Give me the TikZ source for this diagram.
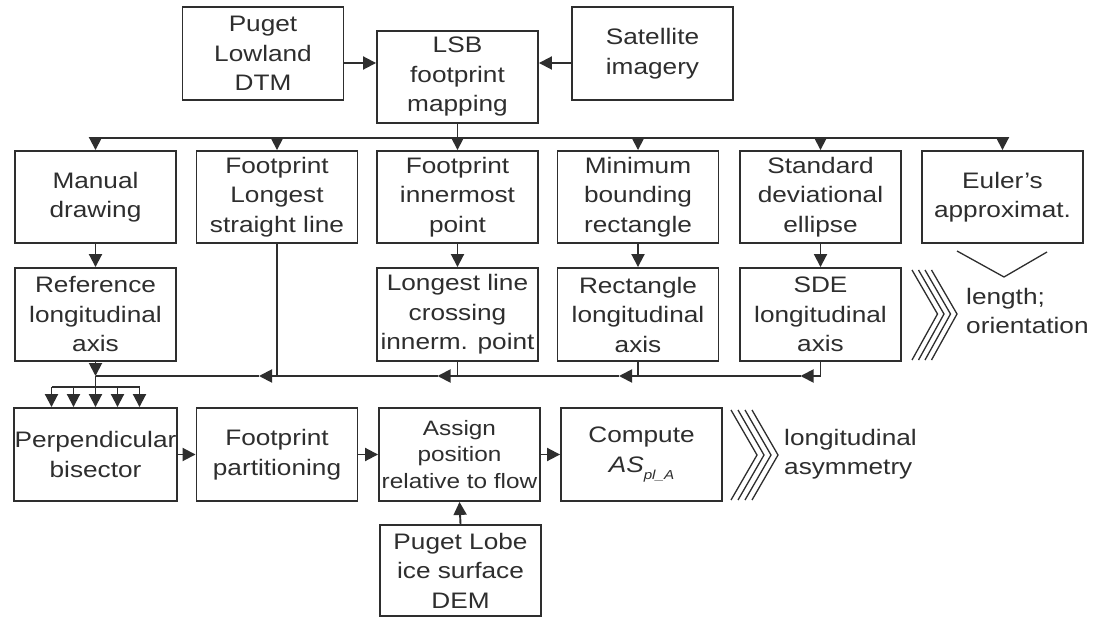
\documentclass[tikz,border=0pt]{standalone}
\usepackage{fontspec}
\setmainfont{Liberation Sans}[FakeStretch=1.17]
\usetikzlibrary{arrows.meta,calc}
\definecolor{ink}{HTML}{2E2E2E}
\begin{document}
\begin{tikzpicture}[x=1pt,y=-1pt,
  box/.style={draw=ink, line width=1.9pt, minimum width=161pt, minimum height=93pt,
    inner sep=0.5pt, align=center, text=ink, font=\fontsize{22.4}{29.5}\selectfont},
  ln/.style={draw=ink, line width=1.9pt},
  arr/.style={ln, -{Triangle[length=13pt,width=13pt]}},
  fine/.style={draw=ink, line width=1.3pt},
  note/.style={text=ink, align=left, inner sep=0pt, anchor=north west,
    font=\fontsize{22.4}{29.5}\selectfont}]
\fill[white] (0,0) rectangle (1105,617);
\useasboundingbox (0,0) rectangle (1105,617);

% inputs and footprint mapping
\node[box] (puget) at (263,53.5) {Puget\\Lowland\\DTM};
\node[box, minimum height=92pt] (lsb) at (457.5,77) {LSB\\footprint\\mapping};
\node[box] (sat) at (652.5,53.5) {Satellite\\imagery};

% axis methods
\node[box, minimum height=92pt] (manual)  at (95.5,197)  {Manual\\drawing};
\node[box, minimum height=92pt] (fpline)  at (277,197)   {Footprint\\Longest\\straight line};
\node[box, minimum height=92pt] (fpinner) at (457.5,197) {Footprint\\innermost\\point};
\node[box, minimum height=92pt] (mbr)     at (638,197)   {Minimum\\bounding\\rectangle};
\node[box, minimum height=92pt] (sdel)    at (820.5,197) {Standard\\deviational\\ellipse};
\node[box, minimum height=92pt] (euler)   at (1002.5,197) {Euler’s\\approximat.};

% derived axes
\node[box] (ref)   at (95.5,314.5)  {Reference\\longitudinal\\axis};
\node[box] (cross) at (457.5,314.5) {Longest line\\crossing\\innerm. point};
\node[box] (rect)  at (638,314.5)   {Rectangle\\longitudinal\\axis};
\node[box] (sdeax) at (820.5,314.5) {SDE\\longitudinal\\axis};

% asymmetry workflow
\node[box] (perp)   at (95.5,454.5)  {Perpendicular\\bisector};
\node[box] (part)   at (277,454.5)   {Footprint\\partitioning};
\node[box, font=\fontsize{20.8}{26.5}\selectfont] (assign) at (459.5,454.5) {Assign\\position\\relative to flow};
\node[box] (comp)   at (641.5,454.5) {Compute\\{\itshape AS\raisebox{-0.3em}{\fontsize{13}{13}\selectfont pl\_A}}};
\node[box, minimum height=91pt] (dem) at (460.5,570.5) {Puget Lobe\\ice surface\\DEM};

% outcome labels
\node[note] (lenor) at (966,288) {length;\\orientation};
\node[note] (asym)  at (784,429) {longitudinal\\asymmetry};

% helper levels
\coordinate (bus) at (0,138);
\coordinate (col) at (0,376);
\coordinate (ya)  at (0,63);

% top connections
\draw[arr] (puget.east |- ya) -- (lsb.west |- ya);
\draw[arr] (sat.west |- ya) -- (lsb.east |- ya);
\draw[ln] (lsb.south) -- (lsb.south |- bus);
\draw[ln] (manual.north |- bus) -- (euler.north |- bus);
\foreach \n in {manual,fpline,fpinner,mbr,sdel,euler}
  \draw[arr] (\n.north |- bus) -- (\n.north);

% method to axis
\draw[arr] (manual.south) -- (ref.north);
\draw[arr] (fpinner.south) -- (cross.north);
\draw[arr] (mbr.south) -- (rect.north);
\draw[arr] (sdel.south) -- (sdeax.north);

% collector line
\draw[arr] (sdeax.south) |- ($(sdeax.south |- col)+(-20,0)$);
\draw[ln]  ($(sdeax.south |- col)+(-20,0)$) -- (rect.south |- col);
\draw[arr] (rect.south) |- ($(rect.south |- col)+(-19,0)$);
\draw[ln]  ($(rect.south |- col)+(-19,0)$) -- (cross.south |- col);
\draw[arr] (cross.south) |- ($(cross.south |- col)+(-20,0)$);
\draw[ln]  ($(cross.south |- col)+(-20,0)$) -- (fpline.south |- col);
\draw[arr] (fpline.south) |- ($(fpline.south |- col)+(-18,0)$);
\draw[ln]  ($(fpline.south |- col)+(-18,0)$) -- (ref.south |- col);
\draw[arr] (ref.south) -- (ref.south |- col);

% fork into the bisector
\draw[ln] (ref.south |- col) -- ($(perp.north)+(0,-20)$);
\draw[ln] ($(perp.north)+(-44,-20)$) -- ($(perp.north)+(44,-20)$);
\foreach \dx in {-44,-22,0,22,44}
  \draw[arr] ($(perp.north)+(\dx,-20)$) -- ($(perp.north)+(\dx,0)$);

% bottom chain
\draw[arr] (perp.east) -- (part.west);
\draw[arr] (part.east) -- (assign.west);
\draw[arr] (assign.east) -- (comp.west);
\draw[arr] (dem.north) -- (assign.south);

% Euler bracket
\draw[fine] (957,251) -- (1004,277) -- (1047,252);

% chevrons
\foreach \x in {912,918.5,925,931.5}
  \draw[fine] (\x,270) -- (\x+25.5,314) -- (\x,360);
\foreach \x in {731,738,745,752}
  \draw[fine] (\x,410) -- (\x+26,455) -- (\x,500);
\end{tikzpicture}
\end{document}
